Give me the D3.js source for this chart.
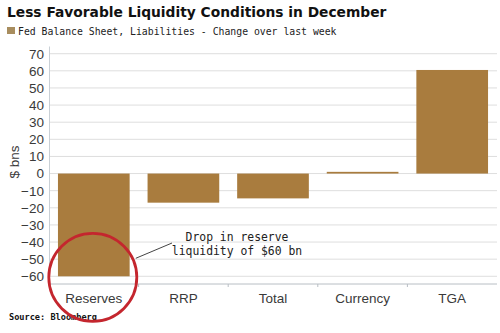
<!DOCTYPE html>
<html>
<head>
<meta charset="utf-8">
<script src="https://cdn.jsdelivr.net/npm/d3@7"></script>
<style>
  body { margin: 0; background: #fff; }
  svg { display: block; }
</style>
</head>
<body>
<div id="chart"></div>
<script>
// Weekly change in Fed liabilities, $ bn
var categories = ['Reserves', 'RRP', 'Total', 'Currency', 'TGA'],
    changes = [-60, -17, -14.5, 1, 60.5],
    yTicks = [-60, -50, -40, -30, -20, -10, 0, 10, 20, 30, 40, 50, 60, 70],
    titleText = 'Less Favorable Liquidity Conditions in December',
    legendText = 'Fed Balance Sheet, Liabilities - Change over last week',
    noteLines = ['Drop in reserve', 'liquidity of $60 bn'];

var width = 500,
    height = 333,
    margin = { top: 46, right: 3, bottom: 49, left: 49 },
    barColour = '#a97c3e',
    gridColour = '#dedede',
    mono = '"DejaVu Sans Mono", "Liberation Mono", monospace',
    sans = '"DejaVu Sans", Verdana, sans-serif',
    labelFont = '"Liberation Sans", Arial, sans-serif';

var svg = d3.select('#chart').append('svg')
    .attr('width', width)
    .attr('height', height);

var x = d3.scaleBand()
    .domain(categories)
    .range([margin.left, width - margin.right])
    .paddingInner(0.2)
    .paddingOuter(0.1);

var y = d3.scaleLinear()
    .domain([-64.5, 74.5])
    .range([height - margin.bottom, margin.top]);

// title + legend
svg.append('text')
    .attr('x', 7).attr('y', 17)
    .style('font-family', sans)
    .style('font-weight', 'bold')
    .style('font-size', '13.8px')
    .style('fill', '#111')
    .text(titleText);

svg.append('rect')
    .attr('x', 7).attr('y', 27)
    .attr('width', 8).attr('height', 7)
    .style('fill', '#a88d5e');

svg.append('text')
    .attr('x', 18).attr('y', 34.5)
    .style('font-family', mono)
    .style('font-size', '9.8px')
    .style('fill', '#222')
    .text(legendText);

// gridlines
svg.append('g')
    .selectAll('line')
    .data(yTicks)
    .enter().append('line')
    .attr('x1', margin.left)
    .attr('x2', width - margin.right)
    .attr('y1', function (d) { return y(d); })
    .attr('y2', function (d) { return y(d); })
    .style('stroke', gridColour)
    .style('stroke-width', 1);

// bars
svg.append('g')
    .selectAll('rect')
    .data(categories)
    .enter().append('rect')
    .attr('x', function (d) { return x(d); })
    .attr('width', x.bandwidth())
    .attr('y', function (d, i) { return y(Math.max(0, changes[i])); })
    .attr('height', function (d, i) { return Math.abs(y(changes[i]) - y(0)); })
    .style('fill', barColour);

// y axis
var yAxis = svg.append('g')
    .attr('transform', 'translate(' + margin.left + ',0)')
    .call(d3.axisLeft(y).tickValues(yTicks).tickSize(0).tickPadding(5));
yAxis.select('.domain').style('stroke', '#c9d0d6');
yAxis.selectAll('text')
    .style('font-family', labelFont)
    .style('font-size', '13.5px')
    .style('fill', '#3a3a3a');

svg.append('text')
    .attr('transform', 'translate(19,' + 162 + ') rotate(-90)')
    .attr('text-anchor', 'middle')
    .style('font-family', labelFont)
    .style('font-size', '13.5px')
    .style('fill', '#3a3a3a')
    .text('$ bns');

// x axis with ticks between the bands
var xAxisY = height - margin.bottom;
svg.append('line')
    .attr('x1', margin.left).attr('x2', width - margin.right)
    .attr('y1', xAxisY).attr('y2', xAxisY)
    .style('stroke', '#b8bec4');

var step = x.step();
svg.append('g')
    .selectAll('line')
    .data(categories.slice(1))
    .enter().append('line')
    .attr('x1', function (d) { return x(d) - step * x.paddingInner() / 2; })
    .attr('x2', function (d) { return x(d) - step * x.paddingInner() / 2; })
    .attr('y1', xAxisY)
    .attr('y2', xAxisY + 3)
    .style('stroke', '#b8bec4');

svg.append('g')
    .selectAll('text')
    .data(categories)
    .enter().append('text')
    .attr('x', function (d) { return x(d) + x.bandwidth() / 2; })
    .attr('y', 303)
    .attr('text-anchor', 'middle')
    .style('font-family', labelFont)
    .style('font-size', '13.5px')
    .style('fill', '#3a3a3a')
    .text(function (d) { return d; });

// source
svg.append('text')
    .attr('x', 9).attr('y', 320)
    .style('font-family', mono)
    .style('font-weight', 'bold')
    .style('font-size', '8.6px')
    .style('fill', '#111')
    .text('Source: Bloomberg');

// annotation on the reserves bar
var cx = x('Reserves') + x.bandwidth() / 2,
    cy = y(changes[0]);

svg.append('line')
    .attr('x1', cx + 42).attr('y1', cy - 18)
    .attr('x2', 172).attr('y2', 243)
    .style('stroke', '#444')
    .style('stroke-width', 1);

svg.append('circle')
    .attr('cx', cx - 1)
    .attr('cy', cy + 1)
    .attr('r', 44)
    .style('fill', 'none')
    .style('stroke', '#c4262e')
    .style('stroke-width', 2.8);

svg.append('g')
    .selectAll('text')
    .data(noteLines)
    .enter().append('text')
    .attr('x', 237)
    .attr('y', function (d, i) { return 241 + i * 14; })
    .attr('text-anchor', 'middle')
    .style('font-family', mono)
    .style('font-size', '11.4px')
    .style('fill', '#222')
    .text(function (d) { return d; });
</script>
</body>
</html>
